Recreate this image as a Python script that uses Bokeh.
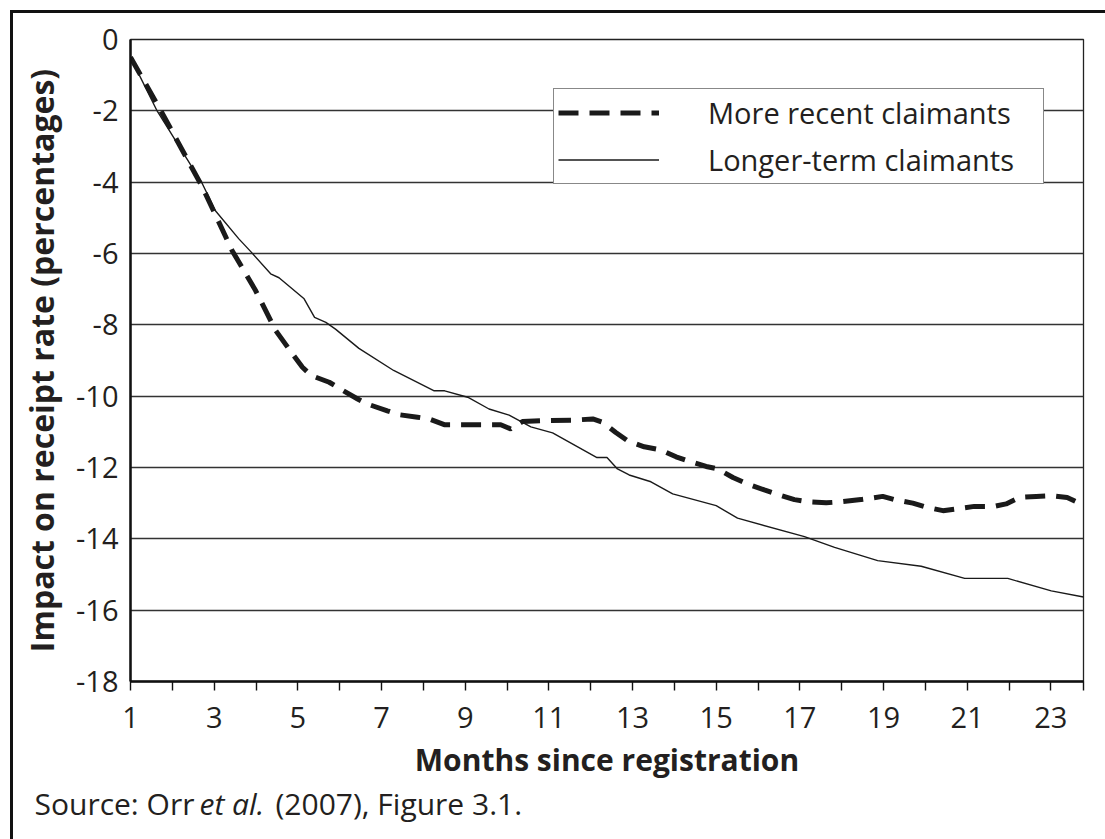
from bokeh.plotting import figure
from bokeh.layouts import column
from bokeh.models import (Range1d, FixedTicker, Legend, LegendItem, Label,
                          CustomJSTickFormatter)
from bokeh.embed import file_html
from bokeh.resources import INLINE

# ---- data ----
months_recent = [1.00, 1.68, 2.72, 3.43, 3.99, 4.47, 4.90, 5.11, 5.32, 5.75, 6.09, 6.43,
                 6.66, 7.14, 7.42, 7.86, 8.14, 8.50, 9.85, 10.09, 10.37, 10.81, 11.61,
                 12.05, 12.28, 12.60, 12.88, 13.28, 13.68, 14.04, 14.32, 14.76, 15.04,
                 15.40, 15.75, 16.15, 16.43, 16.87, 17.19, 17.63, 17.99, 18.46, 18.98,
                 19.26, 19.70, 19.98, 20.42, 20.74, 21.17, 21.65, 21.93, 22.25, 22.65,
                 23.01, 23.39, 23.72]
impact_recent = [-0.50, -1.90, -4.14, -5.92, -7.04, -8.16, -8.86, -9.19, -9.42, -9.61,
                 -9.85, -10.08, -10.22, -10.41, -10.52, -10.59, -10.64, -10.80, -10.80,
                 -10.92, -10.71, -10.69, -10.67, -10.64, -10.73, -11.02, -11.25, -11.42,
                 -11.51, -11.70, -11.81, -11.97, -12.04, -12.28, -12.46, -12.63, -12.74,
                 -12.90, -12.96, -12.99, -12.96, -12.90, -12.81, -12.90, -13.00, -13.10,
                 -13.21, -13.16, -13.09, -13.09, -13.02, -12.84, -12.81, -12.79, -12.84,
                 -13.02]

months_longer = [1.00, 1.64, 2.72, 3.03, 3.59, 3.87, 4.35, 4.55, 5.15, 5.40, 5.67, 5.90,
                 6.46, 7.29, 8.26, 8.51, 9.06, 9.57, 10.05, 10.57, 11.09, 12.15, 12.39,
                 12.64, 12.92, 13.44, 13.96, 15.00, 15.51, 17.11, 17.83, 18.86, 19.90,
                 20.94, 21.97, 23.01, 23.78]
impact_longer = [-0.50, -2.01, -4.05, -4.80, -5.59, -5.94, -6.57, -6.68, -7.27, -7.79,
                 -7.93, -8.12, -8.66, -9.28, -9.85, -9.85, -10.03, -10.36, -10.53, -10.86,
                 -11.03, -11.72, -11.72, -12.04, -12.21, -12.40, -12.74, -13.07, -13.42,
                 -13.94, -14.24, -14.61, -14.77, -15.11, -15.11, -15.46, -15.63]

series_names = ["More recent claimants", "Longer-term claimants"]
x_labelled_months = [1, 3, 5, 7, 9, 11, 13, 15, 17, 19, 21, 23]
x_other_months = [2, 4, 6, 8, 10, 12, 14, 16, 18, 20, 22]
y_ticks = [0, -2, -4, -6, -8, -10, -12, -14, -16, -18]
x_title = "Months since registration"
y_title = "Impact on receipt rate (percentages)"
source_parts = ["Source: Orr", "et al.", "(2007), Figure 3.1."]

# ---- styling ----
FONT = "Open Sans"
INK = "#231f20"
X_END = 23.78
W = 1092
MAIN_H = 769

p = figure(width=W, height=MAIN_H, output_backend="svg", toolbar_location=None,
           x_range=Range1d(1, X_END), y_range=Range1d(-18, 0),
           min_border_left=117, min_border_right=22, min_border_top=26,
           min_border_bottom=101)
p.frame_align = False

p.outline_line_color = "#222"
p.outline_line_width = 1.3
p.background_fill_color = "white"
p.border_fill_color = "white"

r_recent = p.line(months_recent, impact_recent, line_color="#1a1a1a", line_width=5,
                  line_dash="20 11")
r_longer = p.line(months_longer, impact_longer, line_color="#1a1a1a", line_width=1.4)

# axes
xa = p.xaxis[0]
ya = p.yaxis[0]
xa.ticker = FixedTicker(ticks=x_labelled_months, minor_ticks=x_other_months + [X_END])
ya.ticker = FixedTicker(ticks=y_ticks, minor_ticks=[])
ya.formatter = CustomJSTickFormatter(code="return tick.toFixed(0);")
for ax in (xa, ya):
    ax.axis_line_color = "#111"
    ax.axis_line_width = 2.5
    ax.major_label_text_font = FONT
    ax.major_label_text_font_size = "29px"
    ax.major_label_text_color = INK
    ax.axis_label_text_font = FONT
    ax.axis_label_text_font_size = "30px"
    ax.axis_label_text_font_style = "bold"
    ax.axis_label_text_color = INK
    ax.major_tick_in = 0
    ax.minor_tick_in = 0
xa.major_tick_out = 9
xa.minor_tick_out = 9
xa.major_tick_line_color = "#111"
xa.minor_tick_line_color = "#111"
xa.major_tick_line_width = 1.4
xa.minor_tick_line_width = 1.4
xa.major_label_standoff = 16
xa.axis_label = x_title
xa.axis_label_standoff = 8

ya.major_tick_out = 0
ya.major_tick_line_color = None
ya.minor_tick_line_color = None
ya.major_label_standoff = 12
ya.axis_label = y_title
ya.axis_label_text_font_size = "32px"
ya.axis_label_standoff = 10

p.xgrid.visible = False
p.ygrid.grid_line_color = "#333"
p.ygrid.grid_line_width = 1.3

legend = Legend(items=[LegendItem(label=series_names[0], renderers=[r_recent]),
                       LegendItem(label=series_names[1], renderers=[r_longer])],
                location=(423, 497), orientation="vertical", margin=0,
                glyph_width=101, glyph_height=31, label_standoff=49,
                label_width=331, label_height=31, padding=4, spacing=8,
                border_line_color="#111", border_line_width=1.3,
                background_fill_color="white", background_fill_alpha=1.0,
                label_text_font=FONT, label_text_font_size="29px",
                label_text_color=INK)
p.add_layout(legend)

# ---- source note underneath ----
SH = 839 - 13 - MAIN_H
SRC_BASELINE = 803  # page y, tuned against the rendered picture
s = figure(width=W, height=SH, output_backend="svg", toolbar_location=None,
           x_range=Range1d(0, W), y_range=Range1d(0, SH), min_border=0)
s.frame_align = False
s.axis.visible = False
s.grid.visible = False
s.outline_line_color = None
s.background_fill_color = "white"
s.border_fill_color = "white"

src_x = [21, 186, 262]
src_style = ["normal", "italic", "normal"]
for t, sx, st in zip(source_parts, src_x, src_style):
    s.add_layout(Label(x=sx, y=SH - (SRC_BASELINE - 13 - MAIN_H), text=t, text_font=FONT,
                       text_font_size="30px", text_font_style=st, text_color=INK,
                       text_baseline="alphabetic"))

layout = column(p, s, spacing=0)
layout.styles = {"border-top": "3px solid #111", "border-left": "3px solid #111",
                 "margin-top": "10px", "margin-left": "10px"}

open("out.html", "w").write(file_html(layout, INLINE))
